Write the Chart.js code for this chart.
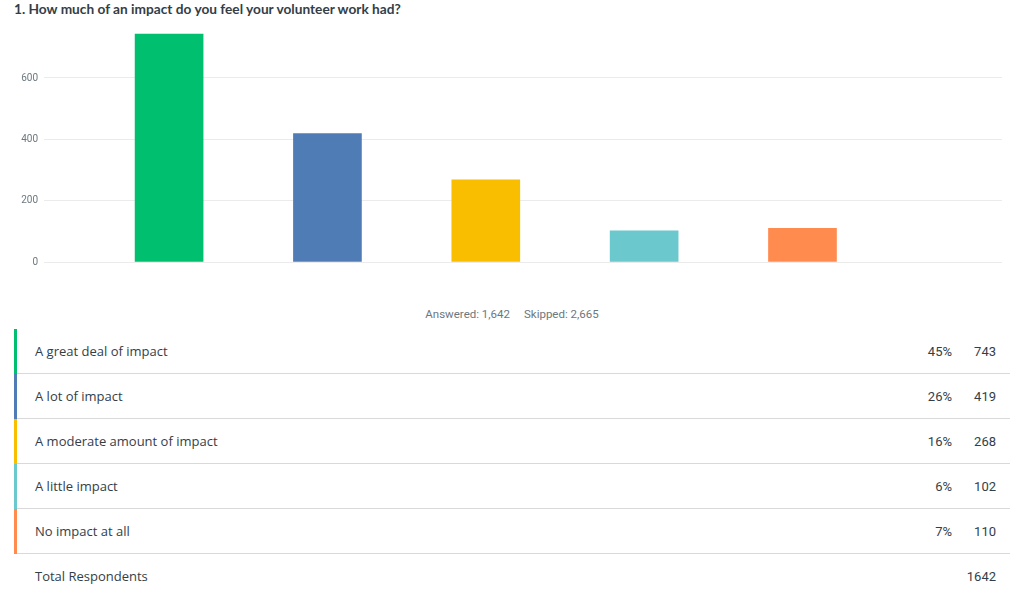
<!DOCTYPE html>
<html>
<head>
<meta charset="utf-8">
<script src="https://cdn.jsdelivr.net/npm/chart.js@4/dist/chart.umd.min.js"></script>
<style>
  body { margin: 0; width: 1024px; height: 598px; background: #fff; position: relative; overflow: hidden; font-family: "Open Sans", sans-serif; color: #333e48; }
  #titulo { position: absolute; left: 14px; top: 0px; font-family: Lato, sans-serif; font-size: 13.7px; font-weight: bold; line-height: 18px; }
  #grafico { position: absolute; left: 0; top: 20px; width: 1002px; height: 254px; }
  #resumo { position: absolute; left: 0; width: 1024px; top: 307px; text-align: center; font-family: Roboto, sans-serif; font-size: 11.5px; color: #6b787f; }
  #resumo span { margin: 0 7px; }
  #tabela { position: absolute; left: 14px; top: 329px; width: 996px; border-collapse: collapse; font-size: 13px; }
  #tabela td { height: 44px; padding: 0; border-bottom: 1px solid #d9d9d9; }
  #tabela td.rotulo { padding-left: 18px; }
  #tabela td.num { font-family: Roboto, sans-serif; text-align: right; }
  #tabela tr.total td { border-bottom: none; }
</style>
</head>
<body>
<div id="titulo">1. How much of an impact do you feel your volunteer work had?</div>
<div id="grafico"><canvas id="graficoImpacto"></canvas></div>
<div id="resumo"><span>Answered: 1,642</span><span>Skipped: 2,665</span></div>
<table id="tabela"><tbody></tbody></table>

<script>
var categorias = ['A great deal of impact', 'A lot of impact', 'A moderate amount of impact', 'A little impact', 'No impact at all'];
var respostas = [743, 419, 268, 102, 110];
var percentuais = ['45%', '26%', '16%', '6%', '7%'];
var cores = ['#00bf6f', '#507cb6', '#f9be00', '#6bc8cd', '#ff8b4f'];
var ticksY = [0, 200, 400, 600];
var totalRespondentes = 1642;

function montarTabela() {
    var tbody = document.getElementById('tabela').getElementsByTagName('tbody')[0];
    categorias.forEach(function (cat, i) {
        var row = tbody.insertRow();
        var c1 = row.insertCell(0);
        var c2 = row.insertCell(1);
        var c3 = row.insertCell(2);
        c1.className = 'rotulo';
        c1.style.borderLeft = '3px solid ' + cores[i];
        c1.textContent = cat;
        c2.className = 'num';
        c2.textContent = percentuais[i];
        c3.className = 'num';
        c3.style.width = '44px';
        c3.style.paddingRight = '14px';
        c3.textContent = respostas[i];
    });
    var total = tbody.insertRow();
    total.className = 'total';
    var t1 = total.insertCell(0);
    t1.className = 'rotulo';
    t1.style.borderLeft = '3px solid transparent';
    t1.textContent = 'Total Respondents';
    total.insertCell(1);
    var t3 = total.insertCell(2);
    t3.className = 'num';
    t3.style.paddingRight = '14px';
    t3.textContent = totalRespondentes;
}

function desenharGrafico() {
    var ctx = document.getElementById('graficoImpacto').getContext('2d');
    var pontos = respostas.map(function (v, i) { return { x: i, y: v }; });
    new Chart(ctx, {
        type: 'bar',
        data: {
            datasets: [{
                data: pontos,
                backgroundColor: cores,
                barThickness: 68,
                borderWidth: 0
            }]
        },
        options: {
            responsive: true,
            maintainAspectRatio: false,
            animation: false,
            layout: { padding: 0 },
            plugins: { legend: { display: false }, tooltip: { enabled: false } },
            scales: {
                x: {
                    type: 'linear',
                    display: false,
                    offset: false,
                    min: -0.79,
                    max: 5.26
                },
                y: {
                    min: 0,
                    max: 750,
                    afterFit: function (scale) { scale.width = 44; },
                    afterBuildTicks: function (scale) {
                        scale.ticks = ticksY.map(function (v) { return { value: v }; });
                    },
                    border: { display: false },
                    grid: { color: '#ebebeb', drawTicks: false },
                    ticks: {
                        color: '#6b787f',
                        padding: 6,
                        font: { family: 'Roboto', size: 10 }
                    }
                }
            }
        }
    });
}

document.addEventListener('DOMContentLoaded', function () {
    montarTabela();
    desenharGrafico();
});
</script>
</body>
</html>
